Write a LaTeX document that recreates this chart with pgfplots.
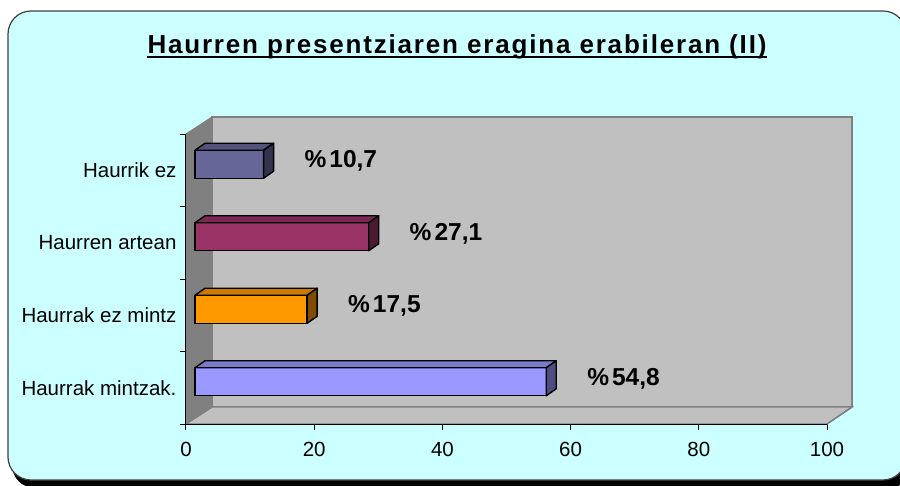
\documentclass[border=0pt]{standalone}
\usepackage{fontspec}
\setmainfont{Liberation Sans}
\newfontfamily\titlefont{Liberation Sans}[LetterSpace=7]
\usepackage{pgfplots}
\pgfplotsset{compat=1.18}

\definecolor{bgcyan}{HTML}{CCFFFF}
\definecolor{wall}{HTML}{C0C0C0}
\definecolor{wallside}{HTML}{808080}
\definecolor{fA}{HTML}{9999FF}\definecolor{tA}{HTML}{7A7ACC}\definecolor{sA}{HTML}{4D4D80}
\definecolor{fB}{HTML}{FF9900}\definecolor{tB}{HTML}{CC7A00}\definecolor{sB}{HTML}{804D00}
\definecolor{fC}{HTML}{993366}\definecolor{tC}{HTML}{7A2952}\definecolor{sC}{HTML}{4D1A33}
\definecolor{fD}{HTML}{666699}\definecolor{tD}{HTML}{52527A}\definecolor{sD}{HTML}{33334D}

% front face of a bar, shifted back into the depth like Excel does
\pgfplotsset{
  front/.style={xbar, bar width=28pt, bar shift=0pt, fill=#1, draw=black,
    line width=1.4pt, xshift=9pt, yshift=6pt,
    point meta=x,
    nodes near coords={\%\hspace{3pt}\pgfmathprintnumber[fixed,precision=1,fixed zerofill,use comma]{\pgfplotspointmeta}},
    every node near coord/.append style={anchor=west, xshift=37pt, yshift=3pt,
      font=\fontsize{24.5}{28}\selectfont\bfseries, black}},
  % top and side faces, drawn at the end of each bar
  faces/.style 2 args={scatter, only marks, mark=*, mark size=0pt,
    xshift=9pt, yshift=6pt,
    visualization depends on={x \as \rawx},
    scatter/@pre marker code/.code={
      \pgfmathsetmacro\L{\rawx*6.41}
      \filldraw[fill=#1, draw=black, line width=1.4pt, line join=round]
        ({-\L*1pt},14pt) -- (0pt,14pt) -- (10pt,21pt) -- ({(10-\L)*1pt},21pt) -- cycle;
      \filldraw[fill=#2, draw=black, line width=1.4pt, line join=round]
        (0pt,-14pt) -- (10pt,-7pt) -- (10pt,21pt) -- (0pt,14pt) -- cycle;
    },
    scatter/@post marker code/.code={}},
}

\begin{document}
\begin{tikzpicture}[x=1pt, y=1pt]
\useasboundingbox (0,0) rectangle (900,485);
% chart area with shadow
\fill[black, rounded corners=23pt] (12,-3) rectangle (912,469);
\filldraw[fill=bgcyan, draw=black!75, line width=1.2pt, rounded corners=23pt] (8,5) rectangle (906,474);
% title
\node[anchor=base, inner sep=0pt] (t) at (457,431)
  {\titlefont\fontsize{26}{30}\selectfont\bfseries Haurren presentziaren eragina erabileran (II)};
\draw[line width=2pt] (t.base west) ++(0,-3.5) -- ([yshift=-3.5pt]t.base east);
% 3d walls
\filldraw[fill=wall, draw=wallside, line width=1.4pt] (212,78) rectangle (852,368);
\filldraw[fill=wall, draw=wallside, line width=1.4pt] (186,61) -- (827,61) -- (852,78) -- (212,78) -- cycle;
\filldraw[fill=wallside, draw=wallside, line width=1pt] (186,61) -- (212,78) -- (212,368) -- (186,351) -- cycle;

\begin{axis}[
  at={(186pt,61pt)}, anchor=south west,
  scale only axis, width=641pt, height=290pt,
  xmin=0, xmax=100, ymin=0, ymax=4,
  axis x line*=bottom, axis y line*=left,
  axis line style={black, line width=1pt, -},
  xtick={0,20,...,100},
  ytick={0.5,1.5,2.5,3.5},
  yticklabels={Haurrak mintzak., Haurrak ez mintz, Haurren artean, Haurrik ez},
  minor ytick={0,1,2,3,4},
  every major y tick/.append style={draw=none},
  tick align=outside,
  major tick length=6pt, minor tick length=6pt,
  tick style={black, line width=1pt},
  ticklabel style={font=\fontsize{20.5}{24}\selectfont},
  xticklabel style={yshift=-9pt},
  /pgf/number format/assume math mode=true,
  clip=false,
]
\addplot[front=fA] coordinates {(54.8,0.5)};
\addplot[faces={tA}{sA}] coordinates {(54.8,0.5)};
\addplot[front=fB] coordinates {(17.5,1.5)};
\addplot[faces={tB}{sB}] coordinates {(17.5,1.5)};
\addplot[front=fC] coordinates {(27.1,2.5)};
\addplot[faces={tC}{sC}] coordinates {(27.1,2.5)};
\addplot[front=fD] coordinates {(10.7,3.5)};
\addplot[faces={tD}{sD}] coordinates {(10.7,3.5)};
\end{axis}
\draw[wallside, line width=1.4pt] (827,61) -- (852,78);
\end{tikzpicture}
\end{document}
